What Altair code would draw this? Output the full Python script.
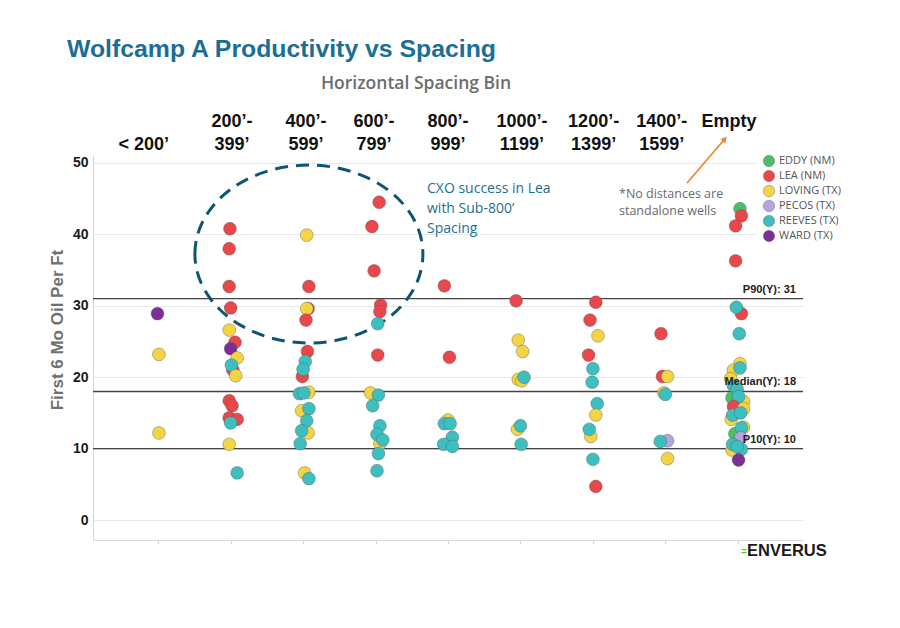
import altair as alt
import pandas as pd

# ---------------- data ----------------
counties = ["EDDY (NM)", "LEA (NM)", "LOVING (TX)", "PECOS (TX)", "REEVES (TX)", "WARD (TX)"]
county_colors = ["#4cbf6a", "#e8474b", "#f2d444", "#b4a4e2", "#3dbfbf", "#7b2f97"]
code = {"E": "EDDY (NM)", "L": "LEA (NM)", "V": "LOVING (TX)", "P": "PECOS (TX)",
        "R": "REEVES (TX)", "W": "WARD (TX)"}

bin_line1 = ["", "200’-", "400’-", "600’-", "800’-", "1000’-", "1200’-", "1400’-", "Empty"]
bin_line2 = ["< 200’", "399’", "599’", "799’", "999’", "1199’", "1399’", "1599’", ""]
label_nudge = [-0.2, 0.02, 0.04, -0.02, 0.0, 0.02, 0.01, -0.05, -0.12]

# per bin: county code, first-6-month oil per ft, horizontal jitter (bin units)
b0_cty = ["W", "V", "V"]
b0_oil = [28.9, 23.2, 12.2]
b0_jit = [-0.01, 0.01, 0.01]

b1_cty = ["L", "L", "L", "L", "V", "L", "W", "V", "L", "R", "V", "L", "L", "L", "L", "R", "V", "R"]
b1_oil = [40.8, 38.0, 32.7, 29.7, 26.6, 24.9, 24.0, 22.7, 21.0, 21.7, 20.2, 16.7, 16.0, 14.3, 14.1, 13.6, 10.6, 6.6]
b1_jit = [-0.01, -0.02, -0.02, 0.0, -0.02, 0.06, 0.0, 0.09, 0.03, 0.01, 0.07, -0.02, 0.02, -0.02, 0.09, 0.0, -0.02, 0.09]

b2_cty = ["V", "L", "L", "V", "L", "L", "L", "R", "R", "V", "R", "R", "V", "R", "V", "R", "R", "R", "V", "R"]
b2_oil = [39.9, 32.7, 29.6, 29.6, 28.0, 23.6, 20.1, 22.2, 21.1, 17.9, 17.7, 17.8, 15.3, 15.6, 12.2, 13.9, 12.5, 10.7, 6.6, 5.8]
b2_jit = [0.05, 0.08, 0.07, 0.05, 0.04, 0.06, -0.01, 0.03, 0.0, 0.08, -0.05, 0.01, -0.02, 0.08, 0.07, 0.05, -0.02, -0.04, 0.02, 0.08]

b3_cty = ["L", "L", "L", "L", "L", "R", "L", "V", "R", "R", "R", "V", "R", "R", "R", "R"]
b3_oil = [44.5, 41.1, 34.9, 30.1, 29.2, 27.5, 23.1, 17.8, 17.5, 16.0, 13.2, 10.7, 12.0, 11.2, 9.3, 6.9]
b3_jit = [0.05, -0.05, -0.02, 0.07, 0.06, 0.03, 0.03, -0.07, 0.04, -0.04, 0.06, 0.06, 0.02, 0.10, 0.04, 0.02]

b4_cty = ["L", "L", "V", "R", "R", "R", "R", "R"]
b4_oil = [32.8, 22.8, 14.0, 13.5, 13.5, 11.6, 10.6, 10.3]
b4_jit = [-0.05, 0.02, 0.0, -0.05, 0.03, 0.06, -0.06, 0.06]

b5_cty = ["L", "V", "V", "V", "V", "R", "V", "R", "R"]
b5_oil = [30.7, 25.2, 23.6, 19.7, 19.5, 20.0, 12.7, 13.2, 10.6]
b5_jit = [-0.06, -0.03, 0.03, -0.03, 0.02, 0.05, -0.04, 0.0, 0.01]

b6_cty = ["L", "L", "V", "L", "R", "R", "R", "V", "V", "R", "R", "L"]
b6_oil = [30.5, 28.0, 25.8, 23.1, 21.2, 19.3, 16.3, 14.7, 11.7, 12.7, 8.5, 4.7]
b6_jit = [0.04, -0.04, 0.07, -0.06, 0.0, -0.01, 0.06, 0.04, -0.03, -0.05, 0.0, 0.04]

b7_cty = ["L", "L", "V", "V", "R", "P", "R", "V"]
b7_oil = [26.1, 20.1, 20.1, 17.8, 17.6, 11.1, 11.0, 8.6]
b7_jit = [-0.06, -0.04, 0.03, -0.02, 0.0, 0.03, -0.07, 0.03]

b8_cty = ["E", "L", "L", "L", "L", "R", "R", "V", "V", "R", "V", "R", "R", "E", "V", "R", "L",
          "V", "V", "R", "R", "V", "E", "R", "P", "V", "R", "R", "R", "W"]
b8_oil = [43.6, 42.6, 41.2, 36.3, 28.9, 29.8, 26.1, 21.9, 21.0, 21.3, 19.8, 18.8, 18.3, 17.1, 16.6, 17.3, 15.9,
          15.6, 14.1, 14.7, 15.0, 13.0, 12.1, 12.9, 11.5, 9.8, 10.6, 9.9, 10.3, 8.4]
b8_jit = [0.03, 0.05, -0.03, -0.03, 0.05, -0.02, 0.02, 0.03, -0.06, 0.03, -0.10, -0.06, -0.01, -0.08, 0.08, 0.01, -0.06,
          0.08, -0.09, -0.07, 0.04, 0.08, -0.04, 0.05, 0.04, -0.08, -0.07, 0.05, -0.01, 0.01]

pct_labels = ["P90(Y): 31", "Median(Y): 18", "P10(Y): 10"]
pct_values = [31, 18, 10]

cxo_note = "CXO success in Lea\nwith Sub-800’\nSpacing"
empty_note = "*No distances are\nstandalone wells"

# ---------------- build tables ----------------
bins = [(b0_cty, b0_oil, b0_jit), (b1_cty, b1_oil, b1_jit), (b2_cty, b2_oil, b2_jit),
        (b3_cty, b3_oil, b3_jit), (b4_cty, b4_oil, b4_jit), (b5_cty, b5_oil, b5_jit),
        (b6_cty, b6_oil, b6_jit), (b7_cty, b7_oil, b7_jit), (b8_cty, b8_oil, b8_jit)]
rows = []
for i, (ctys, oils, jits) in enumerate(bins):
    for c, o, j in zip(ctys, oils, jits):
        rows.append({"bin": i, "pos": i + j, "county": code[c], "oil": o})
pts = pd.DataFrame(rows)

labels_df = pd.DataFrame({"i": [k + n for k, n in enumerate(label_nudge)], "l1": bin_line1, "l2": bin_line2})
pct_df = pd.DataFrame({"label": pct_labels, "v": pct_values})

xscale = alt.Scale(domain=[-0.9, 8.9], nice=False, zero=False)
yscale = alt.Scale(domain=[-2.8, 51.12], nice=False, zero=False)

FONT = "Liberation Sans"

grid_axis = alt.Axis(values=list(range(0, 51, 5)), title=None, labelFont=FONT, labelFontWeight="bold",
                     labelFontSize=14, labelColor="#1a1a1a", ticks=False, tickSize=0, labelPadding=5,
                     domainColor="#d6d6d6", gridColor="#e9e9e9", grid=True)
x_axis = alt.Axis(values=list(range(9)), labels=False, ticks=True, tickSize=4, tickColor="#cfcfcf",
                  domainColor="#dcdcdc", grid=False, title=None)

base_rules = alt.Chart(pct_df).mark_rule(color="#444444", strokeWidth=1.3).encode(
    y=alt.Y("v:Q", scale=yscale, axis=grid_axis)
)

points = alt.Chart(pts).mark_circle(size=165, opacity=1, stroke="#555555", strokeWidth=0.7,
                                    strokeOpacity=0.55).encode(
    x=alt.X("pos:Q", scale=xscale, axis=x_axis),
    y=alt.Y("oil:Q", scale=yscale),
    color=alt.Color("county:N", scale=alt.Scale(domain=counties, range=county_colors),
                    legend=alt.Legend(orient="none", legendX=664, legendY=-6, title=None,
                                      fillColor="white", padding=6, symbolType="circle",
                                      symbolSize=130, symbolStrokeColor="#777777",
                                      symbolStrokeWidth=0.5, labelFont="Open Sans",
                                      labelFontSize=11, labelColor="#555555", labelOffset=4,
                                      rowPadding=1)),
)

pct_text = alt.Chart(pct_df).mark_text(align="right", baseline="bottom", dy=-4, font=FONT,
                                       fontWeight="bold", fontSize=11, color="#222222").encode(
    x=alt.value(703), y=alt.Y("v:Q", scale=yscale), text="label:N"
)

# dashed ellipse around the Lea cluster
ell_df = pd.DataFrame({"x": [2.08], "y": [37.25]})
ellipse = alt.Chart(ell_df).mark_point(
    shape="M -1 0 A 1 0.78 0 1 1 1 0 A 1 0.78 0 1 1 -1 0 Z", size=51984, filled=False,
    stroke="#0e5570", strokeWidth=3, strokeDash=[13, 8], opacity=1
).encode(x=alt.X("x:Q", scale=xscale), y=alt.Y("y:Q", scale=yscale))

# arrow pointing to "Empty"
arrow_df = pd.DataFrame({"x": [7.30], "y": [47.2], "x2": [7.82], "y2": [53.36]})
arrow = alt.Chart(arrow_df).mark_rule(color="#ea8a35", strokeWidth=1.8).encode(
    x=alt.X("x:Q", scale=xscale), y=alt.Y("y:Q", scale=yscale), x2="x2:Q", y2="y2:Q")
head = alt.Chart(arrow_df).mark_point(shape="triangle-up", filled=True, size=45, angle=41,
                                      color="#ea8a35", opacity=1).encode(
    x=alt.X("x2:Q", scale=xscale), y=alt.Y("y2:Q", scale=yscale))

lab1 = alt.Chart(labels_df).mark_text(font=FONT, fontWeight="bold", fontSize=18, color="#111111",
                                      baseline="middle").encode(
    x=alt.X("i:Q", scale=xscale), y=alt.value(-33), text="l1:N")
lab2 = alt.Chart(labels_df).mark_text(font=FONT, fontWeight="bold", fontSize=18, color="#111111",
                                      baseline="middle").encode(
    x=alt.X("i:Q", scale=xscale), y=alt.value(-10), text="l2:N")

title_df = pd.DataFrame({"t": ["Wolfcamp A Productivity vs Spacing"], "s": ["Horizontal Spacing Bin"],
                         "yt": ["First 6 Mo Oil Per Ft"], "c": [cxo_note], "e": [empty_note],
                         "brand": ["ENVERUS"]})
title = alt.Chart(title_df).mark_text(font=FONT, fontWeight="bold", fontSize=24.8, color="#1b6e94",
                                      align="left", baseline="middle").encode(
    x=alt.value(-26), y=alt.value(-105), text="t:N")
subtitle = alt.Chart(title_df).mark_text(font="Open Sans", fontWeight=600, fontSize=17.5, color="#6d6d6d",
                                         align="center", baseline="middle").encode(
    x=alt.value(323), y=alt.value(-71), text="s:N")
ytitle = alt.Chart(title_df).mark_text(font=FONT, fontWeight="bold", fontSize=17, color="#707070",
                                       align="center", baseline="middle", angle=270).encode(
    x=alt.value(-35), y=alt.value(175), text="yt:N")
cxo = alt.Chart(title_df).mark_text(font="Open Sans", fontSize=14, color="#1c6f8f", align="left",
                                    baseline="alphabetic", lineBreak="\n", lineHeight=20).encode(
    x=alt.value(334), y=alt.value(38), text="c:N")
empty_txt = alt.Chart(title_df).mark_text(font="Open Sans", fontSize=12.5, color="#6a6a6a", align="left",
                                          baseline="alphabetic", lineBreak="\n", lineHeight=17).encode(
    x=alt.value(526), y=alt.value(43), text="e:N")
brand = alt.Chart(title_df).mark_text(font=FONT, fontWeight="bold", fontSize=16.5, color="#1a1a1a",
                                      align="left", baseline="middle").encode(
    x=alt.value(654), y=alt.value(396), text="brand:N")
brand_mark = alt.Chart(title_df).mark_text(font=FONT, fontWeight="bold", fontSize=10, color="#5ecb3f",
                                           align="left", baseline="middle", text="=").encode(
    x=alt.value(648), y=alt.value(397))

chart = alt.layer(
    base_rules, ellipse, points, pct_text, arrow, head, lab1, lab2, title, subtitle, ytitle,
    cxo, empty_txt, brand, brand_mark
).properties(
    width=710, height=385, autosize="none",
    padding={"left": 93, "top": 155, "right": 97, "bottom": 88},
    background="white",
).configure_view(stroke=None)

chart.save("out.html", embed_options={"renderer": "svg", "actions": False})
